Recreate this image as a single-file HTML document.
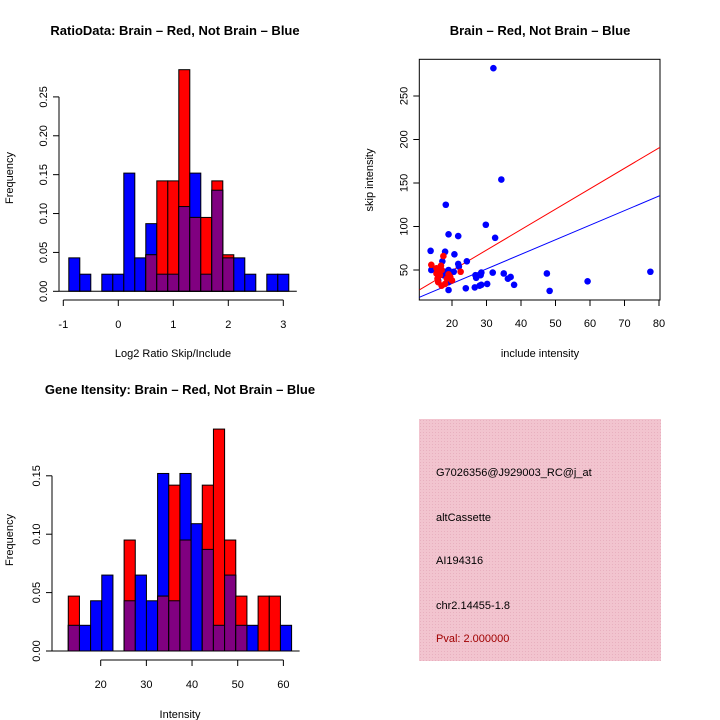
<!DOCTYPE html>
<html><head><meta charset="utf-8"><style>
body{margin:0;background:#fff}
svg{display:block;font-family:"Liberation Sans",sans-serif}
</style></head><body>
<svg id="s" width="720" height="720">
<text x="175" y="35" font-size="13" font-weight="bold" text-anchor="middle">RatioData: Brain – Red, Not Brain – Blue</text>
<text x="540" y="35" font-size="13" font-weight="bold" text-anchor="middle">Brain – Red, Not Brain – Blue</text>
<text x="180" y="394" font-size="13" font-weight="bold" text-anchor="middle">Gene Itensity: Brain – Red, Not Brain – Blue</text>
<text x="173" y="357" font-size="11" text-anchor="middle">Log2 Ratio Skip/Include</text>
<text x="180" y="718" font-size="11" text-anchor="middle">Intensity</text>
<text x="540" y="357" font-size="11" text-anchor="middle">include intensity</text>
<text transform="translate(13,178) rotate(-90)" font-size="11" text-anchor="middle">Frequency</text>
<text transform="translate(13,540) rotate(-90)" font-size="11" text-anchor="middle">Frequency</text>
<text transform="translate(373,180) rotate(-90)" font-size="11" text-anchor="middle">skip intensity</text>
<defs><pattern id="hatch" width="3" height="3" patternUnits="userSpaceOnUse"><rect width="3" height="3" fill="#f2c4cf"/><rect width="1" height="1" fill="#e8b0bf"/></pattern></defs>
<rect x="419" y="419" width="242" height="242" fill="url(#hatch)"/>
<g font-size="11">
<text x="436" y="476">G7026356@J929003_RC@j_at</text>
<text x="436" y="521">altCassette</text>
<text x="436" y="564">AI194316</text>
<text x="436" y="609">chr2.14455-1.8</text>
<text x="436" y="642" fill="#a00000">Pval: 2.000000</text>
</g>
<g id="g1"></g><g id="g2"></g><g id="g3"></g>
</svg>
<script>
const ratioBlue=[0.043,0.022,0,0.022,0.022,0.152,0.043,0.087,0.022,0.022,0.109,0.152,0.022,0.130,0.043,0.043,0.022,0,0.022,0.022];
const ratioRed=[0,0,0,0,0,0,0,0.047,0.142,0.142,0.285,0.095,0.095,0.142,0.047,0,0,0,0,0];
const ratioXTicks=[-1,0,1,2,3];
const ratioYTicks=[0,0.05,0.10,0.15,0.20,0.25];
const intBlue=[0.022,0.022,0.043,0.065,0,0.043,0.065,0.043,0.152,0.043,0.152,0.109,0.087,0.022,0.065,0.022,0.022,0,0,0.022];
const intRed=[0.047,0,0,0,0,0.095,0,0,0.047,0.142,0.095,0,0.142,0.190,0.095,0.047,0,0.047,0.047,0];
const intXTicks=[20,30,40,50,60];
const intYTicks=[0,0.05,0.10,0.15];
const blueX=[32,34.3,18.2,29.8,32.5,19,21.8,13.8,18,20.7,24.3,17.2,21.8,22,14,14.5,19,18,20.5,31.8,35,47.5,77.5,26.8,28.5,28.3,27,36.2,37,38,30.2,28.5,28,26.6,24,19,48.3,59.3,16,17.5,19,18.5];
const blueY=[282,154,125,102,87,91,89,72,71,68,60,60,57,54,50,52,50,48,48,47,46,46,48,44,47,44,41,40,42,33,34,33,32,30,29,27,26,37,38,44,36,42];
const redX=[14,15.5,16,17.5,16.5,15.8,16,17,18,19,19.5,20,22.5,16.8,17,15.5,18.5];
const redY=[56,52,48,66,44,40,36,50,34,45,42,38,48,55,32,46,40];
const redFit=[2.4,2.35];
const blueFit=[1.0,1.675];
const scXTicks=[20,30,40,50,60,70,80];
const scYTicks=[50,100,150,200,250];
const NS="http://www.w3.org/2000/svg";
function mk(p,t,a){const e=document.createElementNS(NS,t);for(const k in a)e.setAttribute(k,a[k]);p.appendChild(e);return e;}
function fmt(v){return v===0?"0.00":v.toFixed(2);}
function hist(g,blue,red,x0,bw,xs,ys,yTicks,xTicks,axY,xAxL,xAxR,yAxis,fmtX,labY,name){
  for(let i=0;i<blue.length;i++){
    const xl=xs(x0+i*bw),xr=xs(x0+(i+1)*bw);
    const b=blue[i],r=red[i],m=Math.min(b,r);
    if(b>0){const e=mk(g,'rect',{x:xl,y:ys(b),width:xr-xl,height:ys(0)-ys(b),fill:'#0000ff',stroke:'#000','stroke-width':1});
      
      }
    if(r>0){const e=mk(g,'rect',{x:xl,y:ys(r),width:xr-xl,height:ys(0)-ys(r),fill:'#ff0000',stroke:'#000','stroke-width':1});
      
      }
    if(m>0){const e=mk(g,'rect',{x:xl,y:ys(m),width:xr-xl,height:ys(0)-ys(m),fill:'#800080',stroke:'#000','stroke-width':1});
      
      }
  }
  mk(g,'line',{x1:yAxis,x2:xs(x0+blue.length*bw)+8,y1:ys(0),y2:ys(0),stroke:'#000'});
  mk(g,'line',{x1:yAxis,x2:yAxis,y1:ys(yTicks[0]),y2:ys(yTicks[yTicks.length-1]),stroke:'#000'});
  yTicks.forEach(v=>{mk(g,'line',{x1:yAxis-6,x2:yAxis,y1:ys(v),y2:ys(v),stroke:'#000'});
    const t=mk(g,'text',{transform:`translate(${yAxis-12},${ys(v)}) rotate(-90)`,'font-size':11,'text-anchor':'middle'});t.textContent=fmt(v);
    
    });
  mk(g,'line',{x1:xs(xTicks[0]),x2:xs(xTicks[xTicks.length-1]),y1:axY,y2:axY,stroke:'#000'});
  xTicks.forEach(v=>{mk(g,'line',{x1:xs(v),x2:xs(v),y1:axY,y2:axY+6,stroke:'#000'});
    const t=mk(g,'text',{x:xs(v),y:labY,'font-size':11,'text-anchor':'middle'});t.textContent=String(v);
    
    });
}
// ratio histogram
hist(document.getElementById('g1'),ratioBlue,ratioRed,-0.9,0.2,v=>118.3+55*v,v=>291.3-v*777.6,ratioYTicks,ratioXTicks,300,0,0,59,null,328,'ratio');
// intensity histogram
hist(document.getElementById('g2'),intBlue,intRed,12.9,2.445,v=>100.7+4.567*(v-20),v=>651-v*1168,intYTicks,intXTicks,660,0,0,52,null,688,'intensity');
// scatter
(function(){
  const g=document.getElementById('g3');
  const xs=v=>452+3.45*(v-20), ys=v=>270-0.87*(v-50);
  const L=419.3,R=660,T=59.3,B=300;
  mk(g,'rect',{x:L,y:T,width:R-L,height:B-T,fill:'none',stroke:'#000'});
  const cp=mk(g,'clipPath',{id:'cp'});mk(cp,'rect',{x:L,y:T,width:R-L,height:B-T});
  const xmin=(L-452)/3.45+20,xmax=(R-452)/3.45+20;
  [[redFit,'#ff0000','red-fit-line'],[blueFit,'#0000ff','blue-fit-line']].forEach(([f,c,n])=>{
    const e=mk(g,'line',{x1:xs(xmin),y1:ys(f[0]+f[1]*xmin),x2:xs(xmax),y2:ys(f[0]+f[1]*xmax),stroke:c,'clip-path':'url(#cp)'});
    
    
  });
  blueX.forEach((x,i)=>{const e=mk(g,'circle',{cx:xs(x),cy:ys(blueY[i]),r:3.3,fill:'#0000ff'});
    
    });
  redX.forEach((x,i)=>{const e=mk(g,'circle',{cx:xs(x),cy:ys(redY[i]),r:3.3,fill:'#ff0000'});
    
    });
  scXTicks.forEach(v=>{mk(g,'line',{x1:xs(v),x2:xs(v),y1:B,y2:B+6,stroke:'#000'});
    const t=mk(g,'text',{x:xs(v),y:327,'font-size':11,'text-anchor':'middle'});t.textContent=String(v);
    
    });
  scYTicks.forEach(v=>{mk(g,'line',{x1:L-6,x2:L,y1:ys(v),y2:ys(v),stroke:'#000'});
    const t=mk(g,'text',{transform:`translate(${L-12},${ys(v)}) rotate(-90)`,'font-size':11,'text-anchor':'middle'});t.textContent=String(v);
    
    });
})();
</script>
</body></html>
